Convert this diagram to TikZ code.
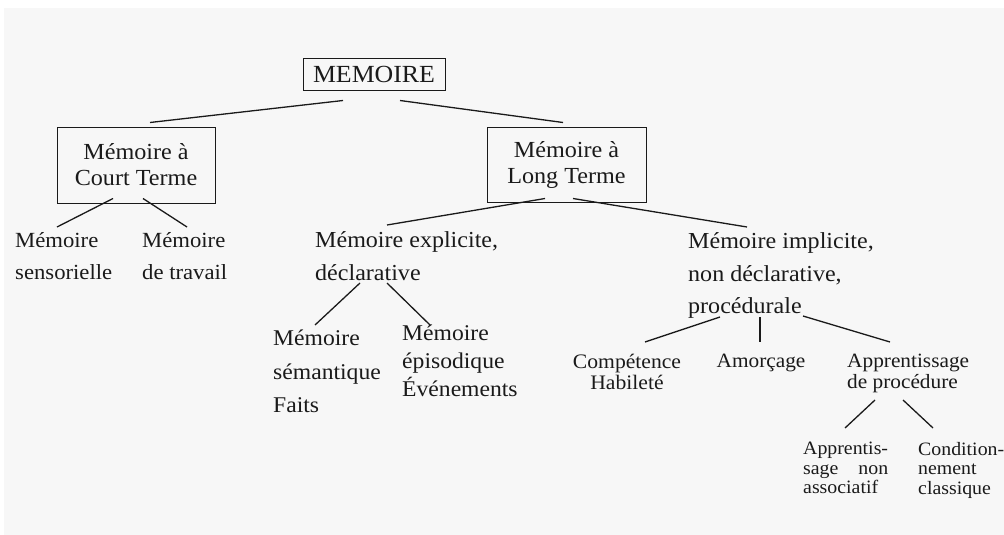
\documentclass[tikz,border=0pt]{standalone}
\usepackage{fontspec}
\setmainfont{Liberation Serif}[FakeStretch=1.05]
\usetikzlibrary{calc}
\definecolor{bgc}{HTML}{F7F7F7}
\definecolor{ink}{HTML}{1A1A1A}
\begin{document}
\begin{tikzpicture}[x=1pt,y=-1pt,
  box/.style={draw=ink, line width=1pt, inner sep=0pt, align=center, text=ink},
  lbl/.style={inner sep=0pt, align=left, anchor=north west, text=ink},
  clbl/.style={inner sep=0pt, align=center, anchor=north, text=ink},
  conn/.style={line width=1.3pt, draw=ink}]
\fill[white] (0,0) rectangle (1004,535);
\fill[bgc] (4,8) rectangle (1004,535);
\useasboundingbox (0,0) rectangle (1004,535);

% boxes
\node[box, minimum width=142, minimum height=31, font=\fontsize{24.6}{30}\selectfont] (mem) at (374,74.5) {MEMOIRE};
\node[box, minimum width=158, minimum height=76, font=\fontsize{23}{26}\selectfont] (ct) at (136,165) {Mémoire à\\Court Terme};
\node[box, minimum width=159, minimum height=75, font=\fontsize{23}{26}\selectfont] (lt) at (566.5,164.5) {Mémoire à\\Long Terme};

% text nodes
\node[lbl, font=\fontsize{21.6}{32}\selectfont] (sens) at (15,232) {Mémoire\\sensorielle};
\node[lbl, font=\fontsize{21.6}{32}\selectfont] (trav) at (142,232) {Mémoire\\de travail};
\node[lbl, font=\fontsize{22.9}{33}\selectfont] (expl) at (315,231.5) {Mémoire explicite,\\déclarative};
\node[lbl, font=\fontsize{22.9}{32.5}\selectfont] (impl) at (688,232.5) {Mémoire implicite,\\non déclarative,\\procédurale};
\node[lbl, font=\fontsize{22.5}{33.5}\selectfont] (sem) at (273,330) {Mémoire\\sémantique\\Faits};
\node[lbl, font=\fontsize{22.5}{28}\selectfont] (epi) at (402,324.5) {Mémoire\\épisodique\\Événements};
\node[clbl, font=\fontsize{20.6}{21}\selectfont] (comp) at (627,354) {Compétence\\Habileté};
\node[clbl, font=\fontsize{20.3}{21}\selectfont] (amor) at (761,354) {Amorçage};
\node[lbl, font=\fontsize{20.3}{21}\selectfont] (appr) at (847,354) {Apprentissage\\de procédure};
\node[lbl, text width=85, font=\fontsize{18.9}{19.5}\selectfont] (nonass) at (803,442) {Apprentis-\\sage\hfill non\\associatif};
\node[lbl, font=\fontsize{18.9}{19.5}\selectfont] (cond) at (918,442) {Condition-\\nement\\classique};

% connectors
\draw[conn] ($(mem.south)+(-31,10)$) -- ($(ct.north)+(14,-4)$);
\draw[conn] ($(mem.south)+(26,10)$) -- ($(lt.north)+(-3.5,-4)$);
\draw[conn] ($(ct.south)+(-23,-5)$) -- ($(sens.north west)+(42,-5)$);
\draw[conn] ($(ct.south)+(7,-5)$) -- ($(trav.north west)+(45,-5)$);
\draw[conn] ($(lt.south)+(-21.5,-4)$) -- ($(expl.north west)+(72,-6.5)$);
\draw[conn] ($(lt.south)+(6.5,-4)$) -- ($(impl.north west)+(59,-5.5)$);
\draw[conn] ($(expl.north west)+(45,51.5)$) -- ($(sem.north west)+(42,-5)$);
\draw[conn] ($(expl.north west)+(72,51.5)$) -- ($(epi.north west)+(28,0.5)$);
\draw[conn] ($(impl.north west)+(32,84.5)$) -- ($(comp.north)+(18,-12)$);
\draw[conn] ($(impl.north west)+(72,84.5)$) -- ($(amor.north)+(-1,-12)$);
\draw[conn] ($(impl.north west)+(115,83.5)$) -- ($(appr.north west)+(43,-12)$);
\draw[conn] ($(appr.north west)+(28,46)$) -- ($(nonass.north west)+(42,-14)$);
\draw[conn] ($(appr.north west)+(56,46)$) -- ($(cond.north west)+(15,-14)$);
\end{tikzpicture}
\end{document}
